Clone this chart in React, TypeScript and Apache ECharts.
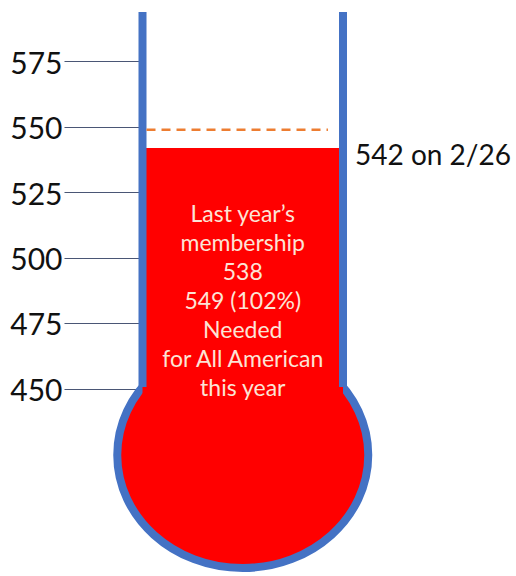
import React, { useEffect, useRef } from "react";
import * as echarts from "echarts";

const TICK_VALUES = [450, 475, 500, 525, 550, 575];
const CURRENT = 542;
const CURRENT_DATE = "2/26";
const TARGET = 549;
const LAST_YEAR = 538;
const TARGET_PCT = 102;
const INNER_LINES = [
  "Last year’s",
  "membership",
  `${LAST_YEAR}`,
  `${TARGET} (${TARGET_PCT}%)`,
  "Needed",
  "for All American",
  "this year",
];
const AXIS_MIN = 380;
const AXIS_MAX = 594;

export default function App() {
  const ref = useRef<HTMLDivElement>(null);
  useEffect(() => {
    const chart = echarts.init(ref.current!, null, { renderer: "svg" });
    const BLUE = "#4472C4";
    const RED = "#FF0000";
    chart.setOption({
      animation: false,
      backgroundColor: "#ffffff",
      grid: { left: 142.5, right: 173, top: 12, bottom: 4 },
      xAxis: { type: "value", min: 0, max: 1, show: false },
      yAxis: {
        type: "value",
        min: AXIS_MIN,
        max: AXIS_MAX,
        axisLine: { show: false },
        splitLine: { show: false },
        axisTick: {
          show: true,
          customValues: TICK_VALUES,
          length: 78,
          lineStyle: { color: "#4a5675", width: 1.2 },
        },
        axisLabel: {
          customValues: TICK_VALUES,
          margin: 80,
          fontFamily: "Lato",
          fontSize: 30,
          color: "#111111",
        },
      },
      series: [
        {
          type: "custom",
          z: 2,
          data: [[0.5, CURRENT]],
          renderItem: (params: any, api: any) => {
            const [L, yTop] = api.coord([0, AXIS_MAX]);
            const [R] = api.coord([1, AXIS_MAX]);
            const yFill = api.coord([0, api.value(1)])[1];
            const yBottom = api.coord([0, AXIS_MIN])[1];
            const cx = (L + R) / 2;
            const rx = 125.5;
            const ry = 113;
            const cy = yBottom - 4 - ry;
            const dx = L - cx;
            const yJoin = cy - ry * Math.sqrt(1 - (dx * dx) / (rx * rx));
            return {
              type: "group",
              children: [
                {
                  type: "ellipse",
                  shape: { cx, cy, rx, ry },
                  style: { fill: RED, stroke: BLUE, lineWidth: 8 },
                },
                {
                  type: "rect",
                  shape: { x: L, y: yFill, width: R - L, height: cy - yFill },
                  style: { fill: RED },
                },
                {
                  type: "line",
                  shape: { x1: L, y1: yTop, x2: L, y2: yJoin },
                  style: { stroke: BLUE, lineWidth: 8 },
                },
                {
                  type: "line",
                  shape: { x1: R, y1: yTop, x2: R, y2: yJoin },
                  style: { stroke: BLUE, lineWidth: 8 },
                },
                {
                  type: "text",
                  x: R + 12,
                  y: yFill + 6,
                  style: {
                    text: `${api.value(1)} on ${CURRENT_DATE}`,
                    fontFamily: "Lato",
                    fontSize: 28,
                    fill: "#111111",
                    align: "left",
                    verticalAlign: "middle",
                  },
                },
              ],
            };
          },
        },
        {
          type: "line",
          z: 3,
          data: [
            [0.02, TARGET],
            [0.925, TARGET],
          ],
          symbol: "none",
          lineStyle: { color: "#ED7D31", width: 2.5, type: [9, 6] },
        },
      ],
      graphic: [
        {
          type: "text",
          x: 242.75,
          y: 198,
          z: 10,
          style: {
            text: INNER_LINES.join("\n"),
            fontFamily: "Lato",
            fontSize: 23,
            lineHeight: 29,
            fill: "#FCE4D6",
            align: "center",
            verticalAlign: "top",
          },
        },
      ],
    });
    return () => chart.dispose();
  }, []);
  return (
    <div
      ref={ref}
      style={{ position: "fixed", left: 0, top: 0, width: 516, height: 576 }}
    />
  );
}
